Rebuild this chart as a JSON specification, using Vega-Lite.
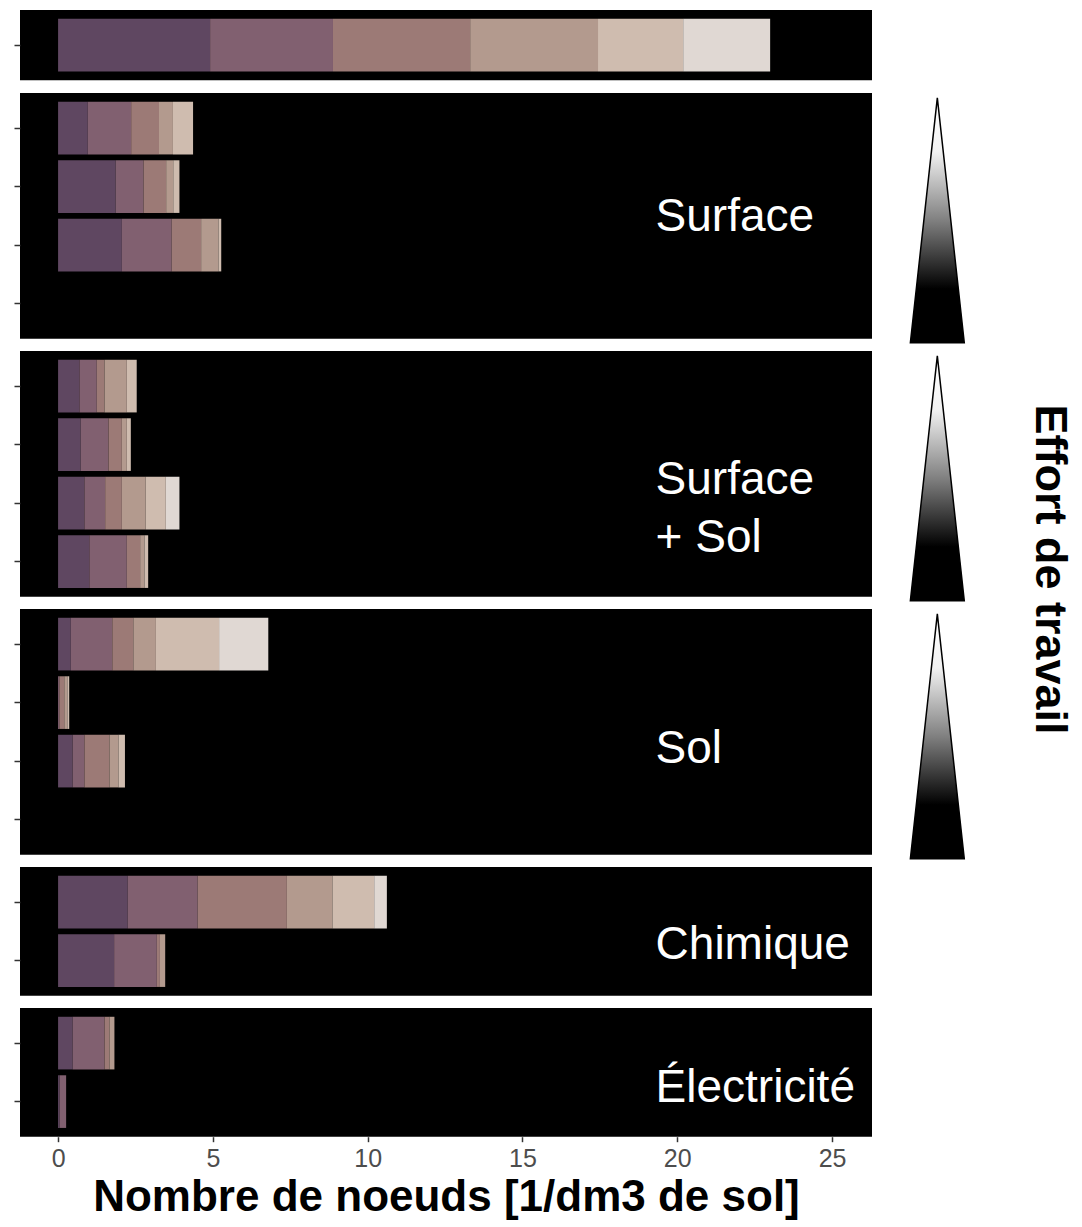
{
  "$schema": "https://vega.github.io/schema/vega-lite/v6.json",
  "background": "white",
  "padding": {"left": 13, "top": 10, "right": 0, "bottom": 0},
  "autosize": {"type": "pad"},
  "bounds": "flush",
  "spacing": 12,
  "config": {"view": {"fill": "black", "stroke": null}},
  "datasets": {
    "d": [
      {"panel": "A", "kind": "bar", "slot": "1", "cls": "1", "value": 4.91},
      {"panel": "A", "kind": "bar", "slot": "1", "cls": "2", "value": 3.97},
      {"panel": "A", "kind": "bar", "slot": "1", "cls": "3", "value": 4.43},
      {"panel": "A", "kind": "bar", "slot": "1", "cls": "4", "value": 4.13},
      {"panel": "A", "kind": "bar", "slot": "1", "cls": "5", "value": 2.75},
      {"panel": "A", "kind": "bar", "slot": "1", "cls": "6", "value": 2.81},

      {"panel": "B", "kind": "bar", "slot": "1", "cls": "1", "value": 0.96},
      {"panel": "B", "kind": "bar", "slot": "1", "cls": "2", "value": 1.40},
      {"panel": "B", "kind": "bar", "slot": "1", "cls": "3", "value": 0.90},
      {"panel": "B", "kind": "bar", "slot": "1", "cls": "4", "value": 0.45},
      {"panel": "B", "kind": "bar", "slot": "1", "cls": "5", "value": 0.65},
      {"panel": "B", "kind": "bar", "slot": "2", "cls": "1", "value": 1.86},
      {"panel": "B", "kind": "bar", "slot": "2", "cls": "2", "value": 0.90},
      {"panel": "B", "kind": "bar", "slot": "2", "cls": "3", "value": 0.73},
      {"panel": "B", "kind": "bar", "slot": "2", "cls": "4", "value": 0.23},
      {"panel": "B", "kind": "bar", "slot": "2", "cls": "5", "value": 0.20},
      {"panel": "B", "kind": "bar", "slot": "3", "cls": "1", "value": 2.06},
      {"panel": "B", "kind": "bar", "slot": "3", "cls": "2", "value": 1.61},
      {"panel": "B", "kind": "bar", "slot": "3", "cls": "3", "value": 0.95},
      {"panel": "B", "kind": "bar", "slot": "3", "cls": "4", "value": 0.56},
      {"panel": "B", "kind": "bar", "slot": "3", "cls": "5", "value": 0.09},
      {"panel": "B", "kind": "label", "slot": "2", "x": 19.3, "label": ["Surface"]},
      {"panel": "B", "kind": "tri", "slot": "2", "x": 28.4},

      {"panel": "C", "kind": "bar", "slot": "1", "cls": "1", "value": 0.69},
      {"panel": "C", "kind": "bar", "slot": "1", "cls": "2", "value": 0.56},
      {"panel": "C", "kind": "bar", "slot": "1", "cls": "3", "value": 0.25},
      {"panel": "C", "kind": "bar", "slot": "1", "cls": "4", "value": 0.72},
      {"panel": "C", "kind": "bar", "slot": "1", "cls": "5", "value": 0.32},
      {"panel": "C", "kind": "bar", "slot": "2", "cls": "1", "value": 0.73},
      {"panel": "C", "kind": "bar", "slot": "2", "cls": "2", "value": 0.90},
      {"panel": "C", "kind": "bar", "slot": "2", "cls": "3", "value": 0.43},
      {"panel": "C", "kind": "bar", "slot": "2", "cls": "4", "value": 0.16},
      {"panel": "C", "kind": "bar", "slot": "2", "cls": "5", "value": 0.13},
      {"panel": "C", "kind": "bar", "slot": "3", "cls": "1", "value": 0.85},
      {"panel": "C", "kind": "bar", "slot": "3", "cls": "2", "value": 0.67},
      {"panel": "C", "kind": "bar", "slot": "3", "cls": "3", "value": 0.54},
      {"panel": "C", "kind": "bar", "slot": "3", "cls": "4", "value": 0.77},
      {"panel": "C", "kind": "bar", "slot": "3", "cls": "5", "value": 0.65},
      {"panel": "C", "kind": "bar", "slot": "3", "cls": "6", "value": 0.44},
      {"panel": "C", "kind": "bar", "slot": "4", "cls": "1", "value": 1.01},
      {"panel": "C", "kind": "bar", "slot": "4", "cls": "2", "value": 1.21},
      {"panel": "C", "kind": "bar", "slot": "4", "cls": "3", "value": 0.43},
      {"panel": "C", "kind": "bar", "slot": "4", "cls": "4", "value": 0.14},
      {"panel": "C", "kind": "bar", "slot": "4", "cls": "5", "value": 0.12},
      {"panel": "C", "kind": "label", "slot": "2", "x": 19.3, "label": ["Surface", "+ Sol"]},
      {"panel": "C", "kind": "tri", "slot": "2", "x": 28.4},
      {"panel": "C", "kind": "title", "slot": "4", "x": 32.05, "label": "Effort de travail"},

      {"panel": "D", "kind": "bar", "slot": "1", "cls": "1", "value": 0.41},
      {"panel": "D", "kind": "bar", "slot": "1", "cls": "2", "value": 1.34},
      {"panel": "D", "kind": "bar", "slot": "1", "cls": "3", "value": 0.68},
      {"panel": "D", "kind": "bar", "slot": "1", "cls": "4", "value": 0.73},
      {"panel": "D", "kind": "bar", "slot": "1", "cls": "5", "value": 2.04},
      {"panel": "D", "kind": "bar", "slot": "1", "cls": "6", "value": 1.59},
      {"panel": "D", "kind": "bar", "slot": "2", "cls": "2", "value": 0.04},
      {"panel": "D", "kind": "bar", "slot": "2", "cls": "3", "value": 0.16},
      {"panel": "D", "kind": "bar", "slot": "2", "cls": "4", "value": 0.10},
      {"panel": "D", "kind": "bar", "slot": "2", "cls": "5", "value": 0.06},
      {"panel": "D", "kind": "bar", "slot": "3", "cls": "1", "value": 0.47},
      {"panel": "D", "kind": "bar", "slot": "3", "cls": "2", "value": 0.38},
      {"panel": "D", "kind": "bar", "slot": "3", "cls": "3", "value": 0.81},
      {"panel": "D", "kind": "bar", "slot": "3", "cls": "4", "value": 0.29},
      {"panel": "D", "kind": "bar", "slot": "3", "cls": "5", "value": 0.21},
      {"panel": "D", "kind": "label", "slot": "3", "x": 19.3, "label": ["Sol"]},
      {"panel": "D", "kind": "tri", "slot": "2", "x": 28.4},

      {"panel": "E", "kind": "bar", "slot": "1", "cls": "1", "value": 2.25},
      {"panel": "E", "kind": "bar", "slot": "1", "cls": "2", "value": 2.26},
      {"panel": "E", "kind": "bar", "slot": "1", "cls": "3", "value": 2.88},
      {"panel": "E", "kind": "bar", "slot": "1", "cls": "4", "value": 1.47},
      {"panel": "E", "kind": "bar", "slot": "1", "cls": "5", "value": 1.35},
      {"panel": "E", "kind": "bar", "slot": "1", "cls": "6", "value": 0.41},
      {"panel": "E", "kind": "bar", "slot": "2", "cls": "1", "value": 1.81},
      {"panel": "E", "kind": "bar", "slot": "2", "cls": "2", "value": 1.38},
      {"panel": "E", "kind": "bar", "slot": "2", "cls": "3", "value": 0.10},
      {"panel": "E", "kind": "bar", "slot": "2", "cls": "4", "value": 0.17},
      {"panel": "E", "kind": "label", "slot": "2", "x": 19.3, "label": ["Chimique"]},

      {"panel": "F", "kind": "bar", "slot": "1", "cls": "1", "value": 0.47},
      {"panel": "F", "kind": "bar", "slot": "1", "cls": "2", "value": 1.03},
      {"panel": "F", "kind": "bar", "slot": "1", "cls": "3", "value": 0.16},
      {"panel": "F", "kind": "bar", "slot": "1", "cls": "4", "value": 0.16},
      {"panel": "F", "kind": "bar", "slot": "2", "cls": "1", "value": 0.05},
      {"panel": "F", "kind": "bar", "slot": "2", "cls": "2", "value": 0.21},
      {"panel": "F", "kind": "label", "slot": "2", "x": 19.3, "label": ["Électricité"]}
    ]
  },
  "data": {"name": "d"},
  "vconcat": [
    {
      "width": 852, "height": 70.2,
      "transform": [{"filter": "datum.panel === 'A'"}],
      "layer": [
        {
          "transform": [{"filter": "datum.kind === 'bar'"}],
          "mark": {"type": "bar"},
          "encoding": {
            "x": {"field": "value", "type": "quantitative", "stack": "zero", "scale": {"domain": [-1.23, 26.29], "nice": false, "zero": false}, "axis": null},
            "y": {"field": "slot", "type": "ordinal", "scale": {"domain": ["1"], "paddingInner": 0.1, "paddingOuter": 0.15}, "axis": {"title": null, "labels": false, "domain": false, "grid": false, "ticks": true, "tickSize": 6, "tickColor": "#333333", "tickWidth": 1.5}},
            "color": {"field": "cls", "type": "nominal", "scale": {"domain": ["1", "2", "3", "4", "5", "6"], "range": ["#5f4761", "#816070", "#9c7a76", "#b39a8e", "#cfbcaf", "#e0d8d3"]}, "legend": null},
            "order": {"field": "cls", "type": "ordinal"}
          }
        }
      ]
    },
    {
      "width": 852, "height": 245.7,
      "transform": [{"filter": "datum.panel === 'B'"}],
      "layer": [
        {
          "transform": [{"filter": "datum.kind === 'bar'"}],
          "mark": {"type": "bar"},
          "encoding": {
            "x": {"field": "value", "type": "quantitative", "stack": "zero", "scale": {"domain": [-1.23, 26.29], "nice": false, "zero": false}, "axis": null},
            "y": {"field": "slot", "type": "ordinal", "scale": {"domain": ["1", "2", "3", "4"], "paddingInner": 0.1, "paddingOuter": 0.15}, "axis": {"title": null, "labels": false, "domain": false, "grid": false, "ticks": true, "tickSize": 6, "tickColor": "#333333", "tickWidth": 1.5}},
            "color": {"field": "cls", "type": "nominal", "scale": {"domain": ["1", "2", "3", "4", "5", "6"], "range": ["#5f4761", "#816070", "#9c7a76", "#b39a8e", "#cfbcaf", "#e0d8d3"]}, "legend": null},
            "order": {"field": "cls", "type": "ordinal"}
          }
        },
        {
          "transform": [{"filter": "datum.kind === 'label'"}],
          "mark": {"type": "text", "align": "left", "baseline": "middle", "color": "white", "fontSize": 46, "font": "Liberation Sans", "lineHeight": 58},
          "encoding": {
            "x": {"field": "x", "type": "quantitative", "scale": {"domain": [-1.23, 26.29], "nice": false, "zero": false}, "axis": null},
            "y": {"field": "slot", "type": "ordinal", "bandPosition": 1.07, "scale": {"domain": ["1", "2", "3", "4"], "paddingInner": 0.1, "paddingOuter": 0.15}, "axis": {"title": null, "labels": false, "domain": false, "grid": false, "ticks": true, "tickSize": 6, "tickColor": "#333333", "tickWidth": 1.5}},
            "text": {"field": "label"}
          }
        },
        {
          "transform": [{"filter": "datum.kind === 'tri'"}],
          "mark": {"type": "point", "shape": "M0,-1L0.22,1L-0.22,1Z", "size": 60025, "filled": true, "opacity": 1, "fill": {"gradient": "linear", "x1": 0, "y1": 0, "x2": 0, "y2": 1, "stops": [{"offset": 0, "color": "#ffffff"}, {"offset": 0.22, "color": "#f2f2f2"}, {"offset": 0.5, "color": "#808080"}, {"offset": 0.78, "color": "#000000"}, {"offset": 1, "color": "#000000"}]}, "stroke": "black", "strokeWidth": 1.5},
          "encoding": {
            "x": {"field": "x", "type": "quantitative", "scale": {"domain": [-1.23, 26.29], "nice": false, "zero": false}, "axis": null},
            "y": {"field": "slot", "type": "ordinal", "bandPosition": 1.14, "scale": {"domain": ["1", "2", "3", "4"], "paddingInner": 0.1, "paddingOuter": 0.15}, "axis": {"title": null, "labels": false, "domain": false, "grid": false, "ticks": true, "tickSize": 6, "tickColor": "#333333", "tickWidth": 1.5}}
          }
        }
      ]
    },
    {
      "width": 852, "height": 245.7,
      "transform": [{"filter": "datum.panel === 'C'"}],
      "layer": [
        {
          "transform": [{"filter": "datum.kind === 'bar'"}],
          "mark": {"type": "bar"},
          "encoding": {
            "x": {"field": "value", "type": "quantitative", "stack": "zero", "scale": {"domain": [-1.23, 26.29], "nice": false, "zero": false}, "axis": null},
            "y": {"field": "slot", "type": "ordinal", "scale": {"domain": ["1", "2", "3", "4"], "paddingInner": 0.1, "paddingOuter": 0.15}, "axis": {"title": null, "labels": false, "domain": false, "grid": false, "ticks": true, "tickSize": 6, "tickColor": "#333333", "tickWidth": 1.5}},
            "color": {"field": "cls", "type": "nominal", "scale": {"domain": ["1", "2", "3", "4", "5", "6"], "range": ["#5f4761", "#816070", "#9c7a76", "#b39a8e", "#cfbcaf", "#e0d8d3"]}, "legend": null},
            "order": {"field": "cls", "type": "ordinal"}
          }
        },
        {
          "transform": [{"filter": "datum.kind === 'label'"}],
          "mark": {"type": "text", "align": "left", "baseline": "middle", "color": "white", "fontSize": 46, "font": "Liberation Sans", "lineHeight": 58},
          "encoding": {
            "x": {"field": "x", "type": "quantitative", "scale": {"domain": [-1.23, 26.29], "nice": false, "zero": false}, "axis": null},
            "y": {"field": "slot", "type": "ordinal", "bandPosition": 1.165, "scale": {"domain": ["1", "2", "3", "4"], "paddingInner": 0.1, "paddingOuter": 0.15}, "axis": {"title": null, "labels": false, "domain": false, "grid": false, "ticks": true, "tickSize": 6, "tickColor": "#333333", "tickWidth": 1.5}},
            "text": {"field": "label"}
          }
        },
        {
          "transform": [{"filter": "datum.kind === 'tri'"}],
          "mark": {"type": "point", "shape": "M0,-1L0.22,1L-0.22,1Z", "size": 60025, "filled": true, "opacity": 1, "fill": {"gradient": "linear", "x1": 0, "y1": 0, "x2": 0, "y2": 1, "stops": [{"offset": 0, "color": "#ffffff"}, {"offset": 0.22, "color": "#f2f2f2"}, {"offset": 0.5, "color": "#808080"}, {"offset": 0.78, "color": "#000000"}, {"offset": 1, "color": "#000000"}]}, "stroke": "black", "strokeWidth": 1.5},
          "encoding": {
            "x": {"field": "x", "type": "quantitative", "scale": {"domain": [-1.23, 26.29], "nice": false, "zero": false}, "axis": null},
            "y": {"field": "slot", "type": "ordinal", "bandPosition": 1.14, "scale": {"domain": ["1", "2", "3", "4"], "paddingInner": 0.1, "paddingOuter": 0.15}, "axis": {"title": null, "labels": false, "domain": false, "grid": false, "ticks": true, "tickSize": 6, "tickColor": "#333333", "tickWidth": 1.5}}
          }
        },
        {
          "transform": [{"filter": "datum.kind === 'title'"}],
          "mark": {"type": "text", "angle": 90, "align": "center", "baseline": "middle", "color": "black", "fontSize": 45, "fontWeight": "bold", "font": "Liberation Sans"},
          "encoding": {
            "x": {"field": "x", "type": "quantitative", "scale": {"domain": [-1.23, 26.29], "nice": false, "zero": false}, "axis": null},
            "y": {"field": "slot", "type": "ordinal", "bandPosition": 0.65, "scale": {"domain": ["1", "2", "3", "4"], "paddingInner": 0.1, "paddingOuter": 0.15}, "axis": {"title": null, "labels": false, "domain": false, "grid": false, "ticks": true, "tickSize": 6, "tickColor": "#333333", "tickWidth": 1.5}},
            "text": {"field": "label"}
          }
        }
      ]
    },
    {
      "width": 852, "height": 245.7,
      "transform": [{"filter": "datum.panel === 'D'"}],
      "layer": [
        {
          "transform": [{"filter": "datum.kind === 'bar'"}],
          "mark": {"type": "bar"},
          "encoding": {
            "x": {"field": "value", "type": "quantitative", "stack": "zero", "scale": {"domain": [-1.23, 26.29], "nice": false, "zero": false}, "axis": null},
            "y": {"field": "slot", "type": "ordinal", "scale": {"domain": ["1", "2", "3", "4"], "paddingInner": 0.1, "paddingOuter": 0.15}, "axis": {"title": null, "labels": false, "domain": false, "grid": false, "ticks": true, "tickSize": 6, "tickColor": "#333333", "tickWidth": 1.5}},
            "color": {"field": "cls", "type": "nominal", "scale": {"domain": ["1", "2", "3", "4", "5", "6"], "range": ["#5f4761", "#816070", "#9c7a76", "#b39a8e", "#cfbcaf", "#e0d8d3"]}, "legend": null},
            "order": {"field": "cls", "type": "ordinal"}
          }
        },
        {
          "transform": [{"filter": "datum.kind === 'label'"}],
          "mark": {"type": "text", "align": "left", "baseline": "middle", "color": "white", "fontSize": 46, "font": "Liberation Sans", "lineHeight": 58},
          "encoding": {
            "x": {"field": "x", "type": "quantitative", "scale": {"domain": [-1.23, 26.29], "nice": false, "zero": false}, "axis": null},
            "y": {"field": "slot", "type": "ordinal", "bandPosition": 0.27, "scale": {"domain": ["1", "2", "3", "4"], "paddingInner": 0.1, "paddingOuter": 0.15}, "axis": {"title": null, "labels": false, "domain": false, "grid": false, "ticks": true, "tickSize": 6, "tickColor": "#333333", "tickWidth": 1.5}},
            "text": {"field": "label"}
          }
        },
        {
          "transform": [{"filter": "datum.kind === 'tri'"}],
          "mark": {"type": "point", "shape": "M0,-1L0.22,1L-0.22,1Z", "size": 60025, "filled": true, "opacity": 1, "fill": {"gradient": "linear", "x1": 0, "y1": 0, "x2": 0, "y2": 1, "stops": [{"offset": 0, "color": "#ffffff"}, {"offset": 0.22, "color": "#f2f2f2"}, {"offset": 0.5, "color": "#808080"}, {"offset": 0.78, "color": "#000000"}, {"offset": 1, "color": "#000000"}]}, "stroke": "black", "strokeWidth": 1.5},
          "encoding": {
            "x": {"field": "x", "type": "quantitative", "scale": {"domain": [-1.23, 26.29], "nice": false, "zero": false}, "axis": null},
            "y": {"field": "slot", "type": "ordinal", "bandPosition": 1.14, "scale": {"domain": ["1", "2", "3", "4"], "paddingInner": 0.1, "paddingOuter": 0.15}, "axis": {"title": null, "labels": false, "domain": false, "grid": false, "ticks": true, "tickSize": 6, "tickColor": "#333333", "tickWidth": 1.5}}
          }
        }
      ]
    },
    {
      "width": 852, "height": 128.7,
      "transform": [{"filter": "datum.panel === 'E'"}],
      "layer": [
        {
          "transform": [{"filter": "datum.kind === 'bar'"}],
          "mark": {"type": "bar"},
          "encoding": {
            "x": {"field": "value", "type": "quantitative", "stack": "zero", "scale": {"domain": [-1.23, 26.29], "nice": false, "zero": false}, "axis": null},
            "y": {"field": "slot", "type": "ordinal", "scale": {"domain": ["1", "2"], "paddingInner": 0.1, "paddingOuter": 0.15}, "axis": {"title": null, "labels": false, "domain": false, "grid": false, "ticks": true, "tickSize": 6, "tickColor": "#333333", "tickWidth": 1.5}},
            "color": {"field": "cls", "type": "nominal", "scale": {"domain": ["1", "2", "3", "4", "5", "6"], "range": ["#5f4761", "#816070", "#9c7a76", "#b39a8e", "#cfbcaf", "#e0d8d3"]}, "legend": null},
            "order": {"field": "cls", "type": "ordinal"}
          }
        },
        {
          "transform": [{"filter": "datum.kind === 'label'"}],
          "mark": {"type": "text", "align": "left", "baseline": "middle", "color": "white", "fontSize": 46, "font": "Liberation Sans", "lineHeight": 58},
          "encoding": {
            "x": {"field": "x", "type": "quantitative", "scale": {"domain": [-1.23, 26.29], "nice": false, "zero": false}, "axis": null},
            "y": {"field": "slot", "type": "ordinal", "bandPosition": 0.2, "scale": {"domain": ["1", "2"], "paddingInner": 0.1, "paddingOuter": 0.15}, "axis": {"title": null, "labels": false, "domain": false, "grid": false, "ticks": true, "tickSize": 6, "tickColor": "#333333", "tickWidth": 1.5}},
            "text": {"field": "label"}
          }
        }
      ]
    },
    {
      "width": 852, "height": 128.7,
      "transform": [{"filter": "datum.panel === 'F'"}],
      "layer": [
        {
          "transform": [{"filter": "datum.kind === 'bar'"}],
          "mark": {"type": "bar"},
          "encoding": {
            "x": {"field": "value", "type": "quantitative", "stack": "zero", "scale": {"domain": [-1.23, 26.29], "nice": false, "zero": false}, "axis": {"values": [0, 5, 10, 15, 20, 25], "grid": false, "domain": false, "ticks": true, "tickSize": 5, "tickColor": "#333333", "tickWidth": 1.5, "labelFontSize": 25, "labelColor": "#4d4d4d", "labelFont": "Liberation Sans", "labelPadding": 5, "title": "Nombre de noeuds [1/dm3 de sol]", "titleFontSize": 44, "titleFontWeight": "bold", "titleFont": "Liberation Sans", "titleColor": "black", "titlePadding": 4}},
            "y": {"field": "slot", "type": "ordinal", "scale": {"domain": ["1", "2"], "paddingInner": 0.1, "paddingOuter": 0.15}, "axis": {"title": null, "labels": false, "domain": false, "grid": false, "ticks": true, "tickSize": 6, "tickColor": "#333333", "tickWidth": 1.5}},
            "color": {"field": "cls", "type": "nominal", "scale": {"domain": ["1", "2", "3", "4", "5", "6"], "range": ["#5f4761", "#816070", "#9c7a76", "#b39a8e", "#cfbcaf", "#e0d8d3"]}, "legend": null},
            "order": {"field": "cls", "type": "ordinal"}
          }
        },
        {
          "transform": [{"filter": "datum.kind === 'label'"}],
          "mark": {"type": "text", "align": "left", "baseline": "middle", "color": "white", "fontSize": 46, "font": "Liberation Sans", "lineHeight": 58},
          "encoding": {
            "x": {"field": "x", "type": "quantitative", "scale": {"domain": [-1.23, 26.29], "nice": false, "zero": false}, "axis": {"values": [0, 5, 10, 15, 20, 25], "grid": false, "domain": false, "ticks": true, "tickSize": 5, "tickColor": "#333333", "tickWidth": 1.5, "labelFontSize": 25, "labelColor": "#4d4d4d", "labelFont": "Liberation Sans", "labelPadding": 5, "title": "Nombre de noeuds [1/dm3 de sol]", "titleFontSize": 44, "titleFontWeight": "bold", "titleFont": "Liberation Sans", "titleColor": "black", "titlePadding": 4}},
            "y": {"field": "slot", "type": "ordinal", "bandPosition": 0.25, "scale": {"domain": ["1", "2"], "paddingInner": 0.1, "paddingOuter": 0.15}, "axis": {"title": null, "labels": false, "domain": false, "grid": false, "ticks": true, "tickSize": 6, "tickColor": "#333333", "tickWidth": 1.5}},
            "text": {"field": "label"}
          }
        }
      ]
    }
  ]
}
